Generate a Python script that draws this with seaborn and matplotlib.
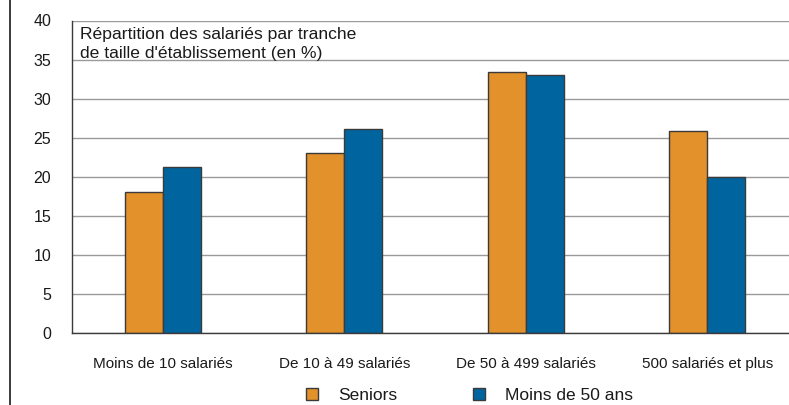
import numpy as np
import pandas as pd
import matplotlib
matplotlib.use("Agg")
import matplotlib.pyplot as plt
import seaborn as sns
from matplotlib.lines import Line2D

# values
categories = ["Moins de 10 salariés", "De 10 à 49 salariés",
              "De 50 à 499 salariés", "500 salariés et plus"]
seniors = [18.0, 23.0, 33.4, 25.8]
moins_50 = [21.2, 26.1, 33.0, 20.0]
series_names = ["Seniors", "Moins de 50 ans"]
colors = ["#E3912A", "#00649F"]
title_text = "Répartition des salariés par tranche\nde taille d'établissement (en %)"

df = pd.DataFrame({
    "categorie": categories * 2,
    "serie": [series_names[0]] * 4 + [series_names[1]] * 4,
    "valeur": seniors + moins_50,
})

sns.set_style("white")
plt.rcParams["font.family"] = ["Liberation Sans", "DejaVu Sans"]

fig = plt.figure(figsize=(7.89, 4.05), dpi=100)
W, H = 789, 405
# plot area runs a bit past the right edge, as in the reference
ax = fig.add_axes([72 / W, (H - 333) / H, 726 / W, 312.5 / H])

sns.barplot(data=df, x="categorie", y="valeur", hue="serie",
            palette=colors, width=0.42, edgecolor="#3a3a3a", linewidth=1.0,
            saturation=1, ax=ax, legend=False)

ax.set_ylim(0, 40)
ax.set_xlim(-0.5, 3.5)
ax.set_yticks(np.arange(0, 41, 5))
ax.yaxis.grid(True, color="#9a9a9a", linewidth=1.0)
ax.set_axisbelow(True)
ax.set_xlabel("")
ax.set_ylabel("")

for s in ["top", "right"]:
    ax.spines[s].set_visible(False)
for s in ["left", "bottom"]:
    ax.spines[s].set_color("#3a3a3a")
    ax.spines[s].set_linewidth(1.0)

ax.tick_params(axis="y", length=5, width=1, color="#3a3a3a", pad=10,
               labelsize=11.5, labelcolor="#1a1a1a")
ax.tick_params(axis="x", which="major", length=0, pad=17,
               labelsize=11, labelcolor="#1a1a1a")
ax.set_xticks([0.5, 1.5, 2.5], minor=True)
ax.tick_params(axis="x", which="minor", length=4, width=1, color="#3a3a3a")

ax.text(0.011, 0.978, title_text, transform=ax.transAxes, ha="left", va="top",
        fontsize=12.6, color="#1a1a1a", linespacing=1.3)

# legend below the plot
handles = [Line2D([0], [0], marker="s", linestyle="none", markersize=8,
                  markerfacecolor=c, markeredgecolor="#3a3a3a", markeredgewidth=1)
           for c in colors]
fig.legend(handles, series_names, loc="center left",
           bbox_to_anchor=(307 / W, 1 - 395 / H), ncol=2, frameon=False,
           fontsize=12.5, handlelength=0.6, handletextpad=1.2, columnspacing=4.4,
           labelcolor="#1a1a1a", borderaxespad=0, borderpad=0)

# frame line on the left of the figure
fig.add_artist(Line2D([10 / W, 10 / W], [0, 1], transform=fig.transFigure,
                      color="#1a1a1a", linewidth=1.2))

fig.savefig("out.png", dpi=100)
